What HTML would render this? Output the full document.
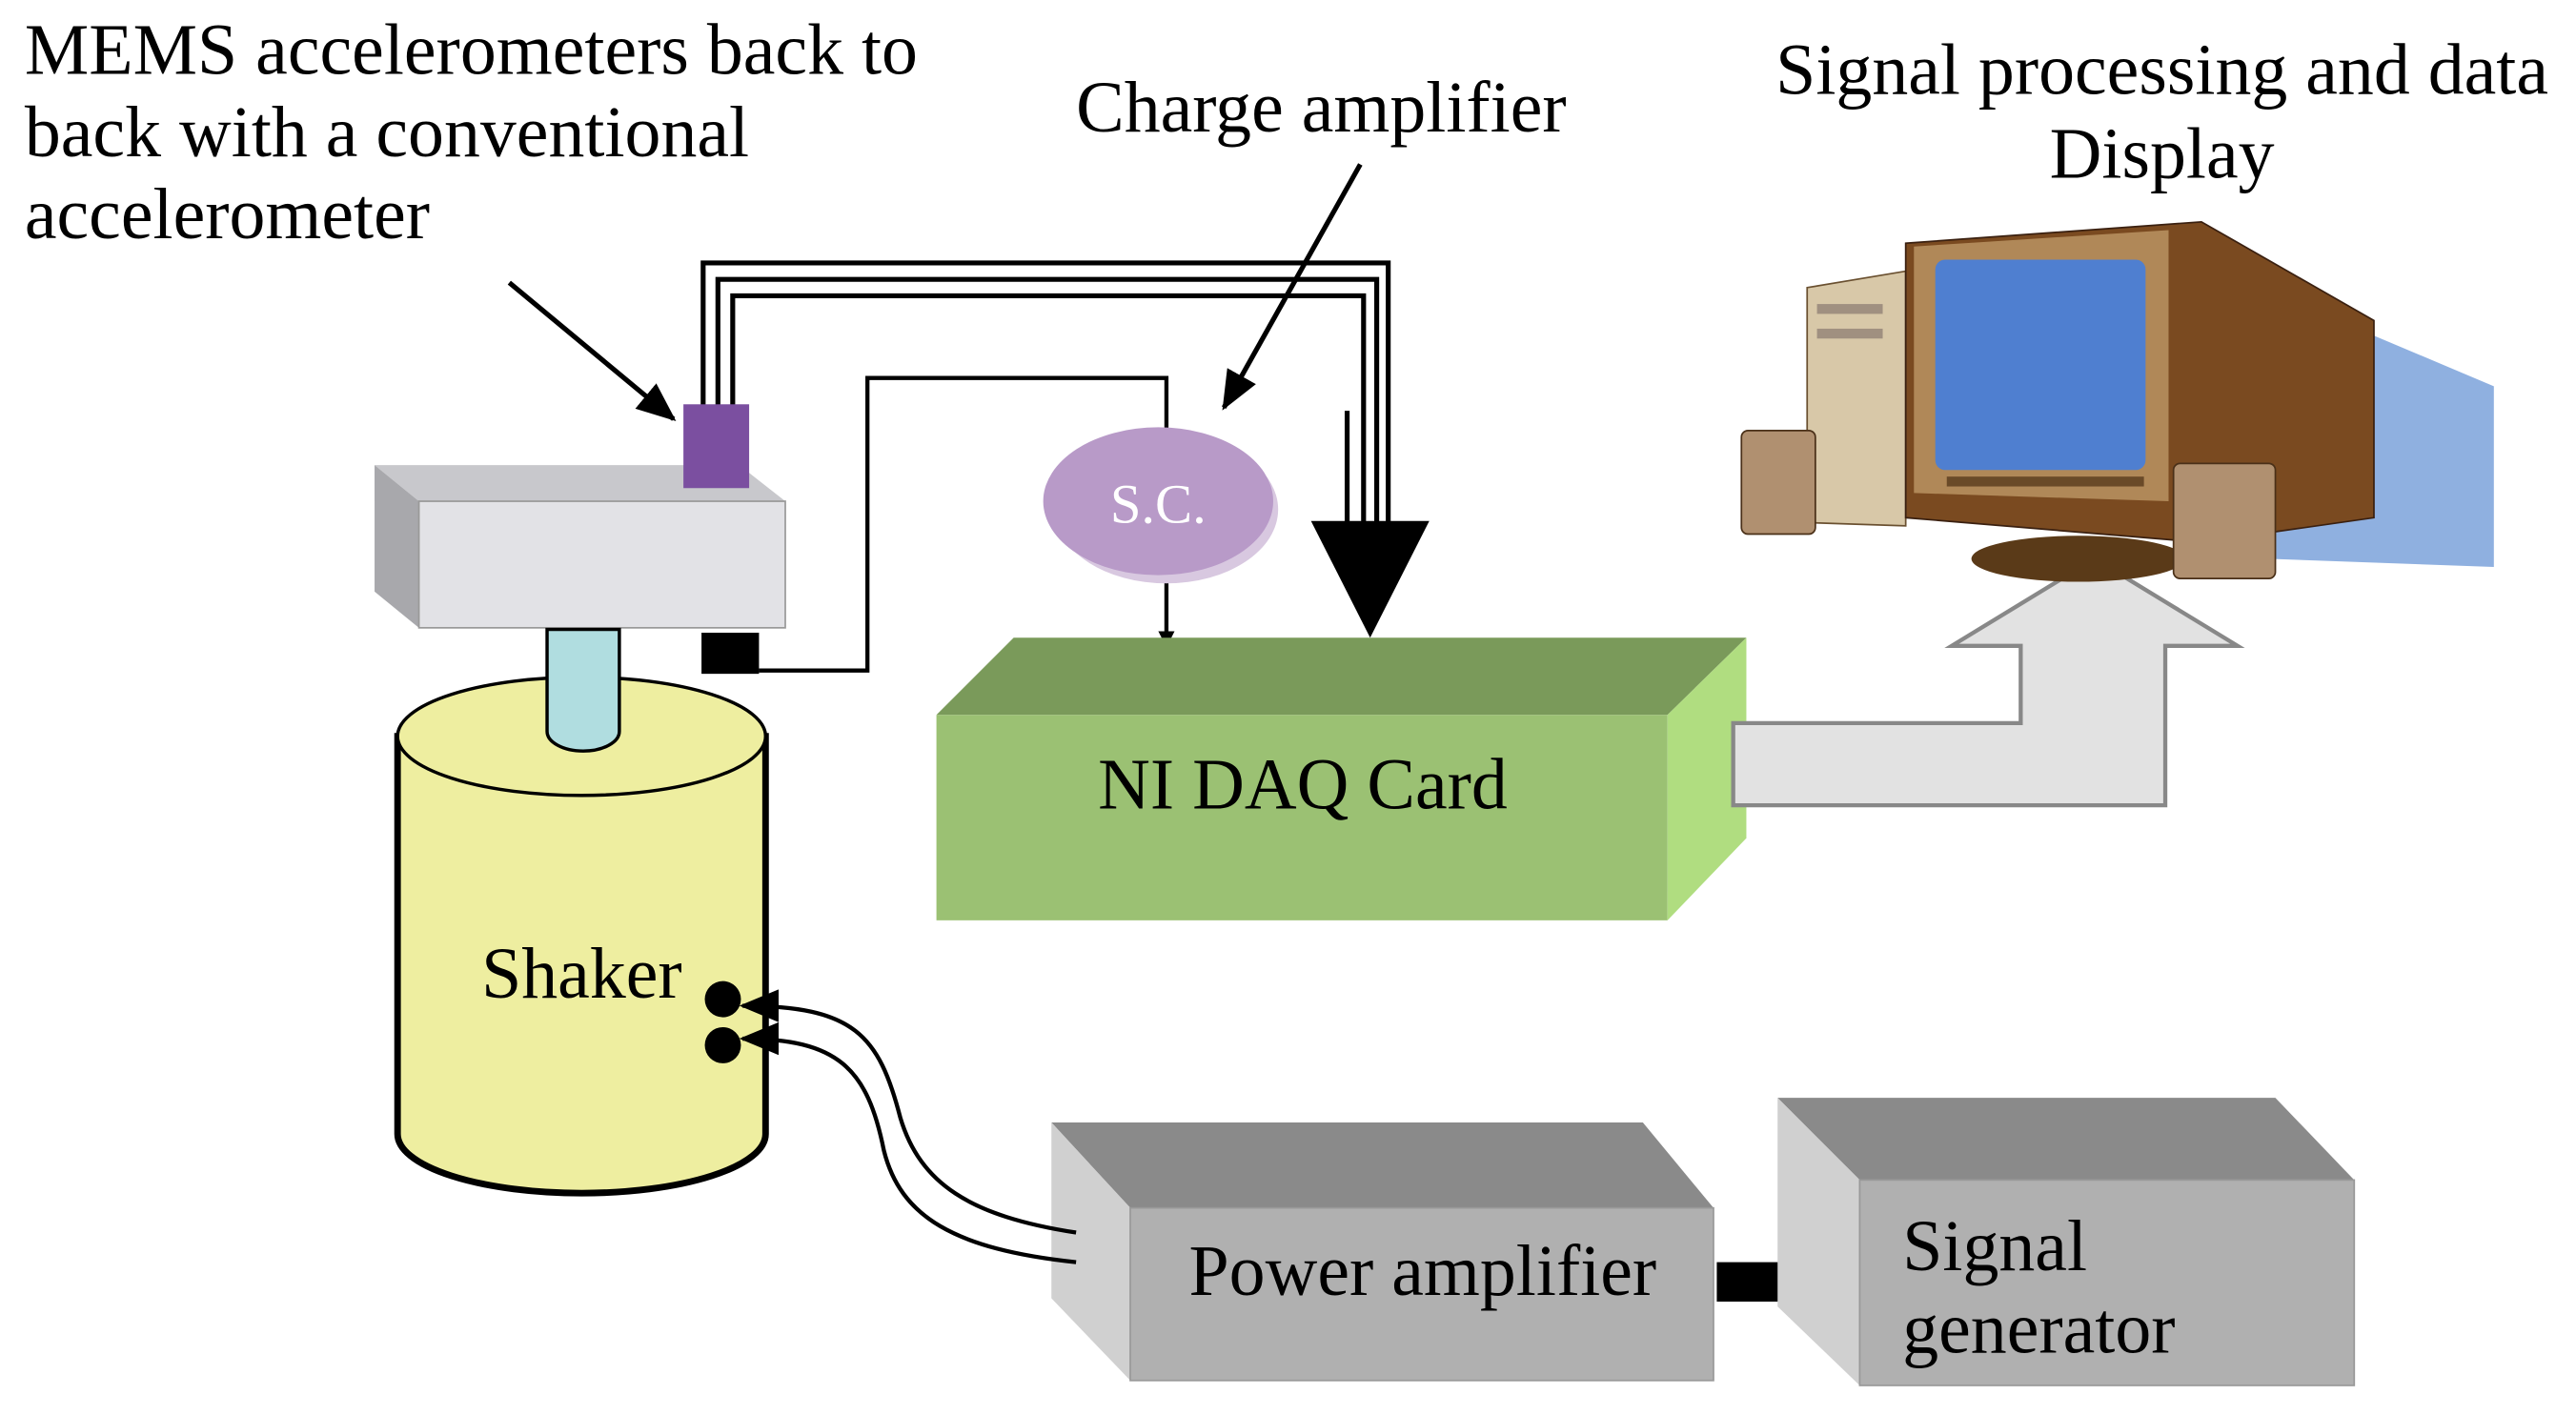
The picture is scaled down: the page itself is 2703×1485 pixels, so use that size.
<!DOCTYPE html>
<html><head><meta charset="utf-8"><style>
html,body{margin:0;padding:0;background:#fff;}
svg{display:block;}
text{font-family:"Liberation Serif",serif;fill:#000;}
</style></head><body>
<svg width="2703" height="1485" viewBox="0 0 1568 861" preserveAspectRatio="none" xmlns="http://www.w3.org/2000/svg">
<defs>
<marker id="ah" markerWidth="10" markerHeight="10" refX="9" refY="5" orient="auto" markerUnits="userSpaceOnUse"><path d="M0,0 L10,5 L0,10 Z" fill="#000"/></marker>
<marker id="ah2" markerWidth="24" markerHeight="20" refX="22" refY="10" orient="auto" markerUnits="userSpaceOnUse"><path d="M0,0 L24,10 L0,20 Z" fill="#000"/></marker>
</defs>

<text x="15" y="45" font-size="44">MEMS accelerometers back to</text>
<text x="15" y="95" font-size="44">back with a conventional</text>
<text x="15" y="145" font-size="44">accelerometer</text>
<text x="655" y="80" font-size="44">Charge amplifier</text>
<text x="1316" y="57" font-size="44" text-anchor="middle">Signal processing and data</text>
<text x="1316" y="108" font-size="44" text-anchor="middle">Display</text>

<line x1="310" y1="172" x2="410" y2="255" stroke="#000" stroke-width="3" marker-end="url(#ah2)"/>
<line x1="828" y1="100" x2="745" y2="248" stroke="#000" stroke-width="3" marker-end="url(#ah2)"/>

<g fill="none" stroke="#000" stroke-width="3">
<polyline points="428,248 428,160 845,160 845,320"/>
<polyline points="437,248 437,170 838,170 838,320"/>
<polyline points="446,248 446,180 830,180 830,320"/>
<polyline points="820,250 820,320"/>
</g>
<polygon points="798,317 870,317 834,388" fill="#000"/>

<polyline points="462,408 528,408 528,230 710,230 710,262" fill="none" stroke="#000" stroke-width="2.5"/>
<line x1="710" y1="350" x2="710" y2="393" stroke="#000" stroke-width="2.5" marker-end="url(#ah)"/>

<polygon points="228,283 450,283 478,305 255,305" fill="#c8c8cc"/>
<polygon points="228,283 255,305 255,382 228,360" fill="#a8a8ac"/>
<rect x="255" y="305" width="223" height="77" fill="#e2e2e6" stroke="#999" stroke-width="1"/>
<rect x="416" y="246" width="40" height="51" fill="#7b4fa0"/>
<rect x="427" y="385" width="35" height="25" fill="#000"/>

<path d="M242,448 L242,690 A112,36 0 0 0 466,690 L466,448 Z" fill="#eeeea0" stroke="#000" stroke-width="4"/>
<ellipse cx="354" cy="448" rx="112" ry="36" fill="#eeeea0" stroke="#000" stroke-width="2"/>
<path d="M333,383 L333,445 A22,12 0 0 0 377,445 L377,383 Z" fill="#b0dde0" stroke="#000" stroke-width="2"/>
<text x="293" y="607" font-size="44">Shaker</text>
<circle cx="440" cy="608" r="11" fill="#000"/>
<circle cx="440" cy="636" r="11" fill="#000"/>

<polygon points="640,683 1000,683 1043,735 688,735" fill="#8a8a8a"/>
<polygon points="640,683 688,735 688,840 640,790" fill="#d0d0d0"/>
<rect x="688" y="735" width="355" height="105" fill="#b0b0b0" stroke="#999"/>
<text x="866" y="788" font-size="44" text-anchor="middle">Power amplifier</text>
<rect x="1045" y="768" width="75" height="24" fill="#000"/>

<path d="M655,750 C590,740 560,720 548,680 C535,630 520,612 452,612" fill="none" stroke="#000" stroke-width="2.5" marker-end="url(#ah2)"/>
<path d="M655,768 C580,760 548,740 538,700 C528,650 510,632 452,632" fill="none" stroke="#000" stroke-width="2.5" marker-end="url(#ah2)"/>

<polygon points="1082,668 1385,668 1433,718 1132,718" fill="#8a8a8a"/>
<polygon points="1082,668 1132,718 1132,843 1082,795" fill="#d0d0d0"/>
<rect x="1132" y="718" width="301" height="125" fill="#b0b0b0" stroke="#999"/>
<text x="1158" y="773" font-size="44">Signal</text>
<text x="1158" y="823" font-size="44">generator</text>

<polygon points="570,435 617,388 1063,388 1015,435" fill="#7a9a5a"/>
<rect x="570" y="435" width="445" height="125" fill="#9bc173"/>
<polygon points="1015,435 1063,388 1063,510 1015,560" fill="#b0dd80"/>
<text x="793" y="492" font-size="44" text-anchor="middle">NI DAQ Card</text>

<polygon points="1055,440 1230,440 1230,393 1188,393 1275,340 1362,393 1318,393 1318,490 1055,490" fill="#e2e2e2" stroke="#888" stroke-width="2.5"/>

<ellipse cx="710" cy="310" rx="68" ry="45" fill="#d8c8e0"/>
<ellipse cx="705" cy="305" rx="70" ry="45" fill="#b89ac8"/>
<text x="705" y="318" font-size="34" text-anchor="middle" style="fill:#fff">S.C.</text>

<polygon points="1340,160 1518,235 1518,345 1380,340" fill="#8fb0e0"/>
<polygon points="1100,175 1160,165 1160,320 1100,318" fill="#d8c8a8" stroke="#6a5030"/>
<rect x="1106" y="185" width="40" height="6" fill="#a09080"/>
<rect x="1106" y="200" width="40" height="6" fill="#a09080"/>
<polygon points="1160,148 1340,135 1445,195 1445,315 1340,330 1160,315" fill="#7a4a20" stroke="#3a2010"/>
<polygon points="1165,150 1320,140 1320,305 1165,300" fill="#b08858"/>
<rect x="1178" y="158" width="128" height="128" rx="6" fill="#4f7fd0"/>
<rect x="1185" y="290" width="120" height="6" fill="#6a4a28"/>
<ellipse cx="1265" cy="340" rx="65" ry="14" fill="#5a3a18"/>
<rect x="1060" y="262" width="45" height="63" rx="4" fill="#b09070" stroke="#4a3018"/>
<rect x="1323" y="282" width="62" height="70" rx="4" fill="#b09070" stroke="#4a3018"/>
</svg>
</body></html>
